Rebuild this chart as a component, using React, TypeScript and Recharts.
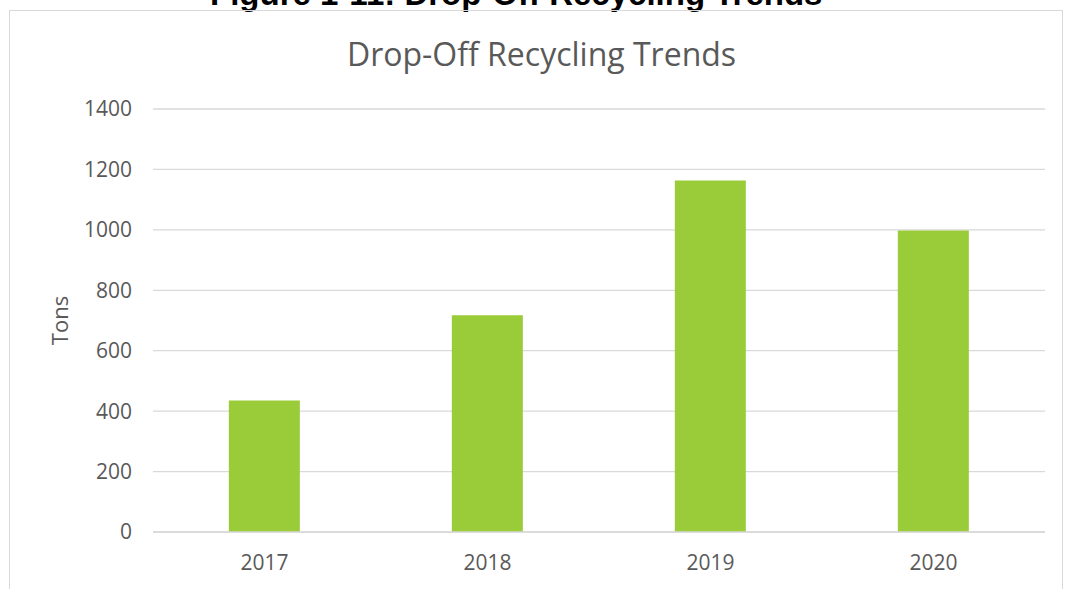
import React from 'react';
import { BarChart, Bar, XAxis, YAxis, CartesianGrid } from 'recharts';

const years = ['2017', '2018', '2019', '2020'];
const tons = [435, 717, 1163, 998];
const yTicks = [0, 200, 400, 600, 800, 1000, 1200, 1400];

const data = years.map((y, i) => ({ year: y, tons: tons[i] }));

const font = '"Open Sans", "Noto Sans", sans-serif';

export default function App() {
  return (
    <div style={{ position: 'absolute', left: 0, top: 0, width: 1065, height: 589, background: '#fff', overflow: 'hidden' }}>
      <div style={{ position: 'absolute', left: 210, top: -21, whiteSpace: 'nowrap', fontFamily: '"Liberation Sans", Arial, sans-serif', fontWeight: 'bold', fontSize: 33, lineHeight: '30px', color: '#000' }}>
        Figure 1-11: Drop-Off Recycling Trends
      </div>
      <div style={{ position: 'absolute', left: 9, top: 10, width: 1054, height: 600, border: '1px solid #d9d9d9', boxSizing: 'border-box' }} />
      <div style={{ position: 'absolute', left: 0, top: 34, width: 1083, textAlign: 'center', fontFamily: font, fontSize: 32, lineHeight: '40px', color: '#595959' }}>
        Drop-Off Recycling Trends
      </div>
      <div style={{ position: 'absolute', left: 0, top: 0 }}>
        <BarChart width={1065} height={589} data={data} margin={{ top: 109, right: 20, bottom: 27, left: 0 }} barCategoryGap="34%">
          <CartesianGrid vertical={false} stroke="#d9d9d9" strokeWidth={1.3} />
          <XAxis
            dataKey="year"
            height={30}
            axisLine={{ stroke: '#d9d9d9', strokeWidth: 1.3 }}
            tickLine={false}
            tickSize={0}
            tickMargin={23}
            tick={{ fill: '#595959', fontSize: 21, fontFamily: font }}
          />
          <YAxis
            width={153}
            domain={[0, 1400]}
            ticks={yTicks}
            axisLine={false}
            tickLine={false}
            tickSize={0}
            tickMargin={21}
            tick={{ fill: '#595959', fontSize: 21, fontFamily: font }}
            label={{ value: 'Tons', angle: -90, position: 'insideLeft', offset: 60, style: { textAnchor: 'middle', fill: '#595959', fontSize: 22, fontFamily: font } }}
          />
          <Bar dataKey="tons" fill="#9acb38" isAnimationActive={false} />
        </BarChart>
      </div>
    </div>
  );
}
